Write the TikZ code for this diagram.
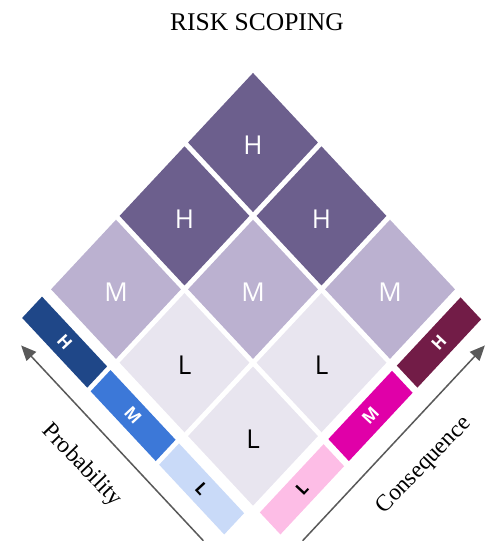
\documentclass[tikz,border=0pt]{standalone}
\usepackage{fontspec}
\setmainfont{Liberation Serif}
\newfontfamily\cellfont{Open Sans}
\usetikzlibrary{arrows.meta}
\definecolor{hcell}{HTML}{6C5F8D}
\definecolor{mcell}{HTML}{BBB1D0}
\definecolor{lcell}{HTML}{E8E5EF}
\definecolor{pH}{HTML}{1F4788}
\definecolor{pM}{HTML}{3C78D8}
\definecolor{pL}{HTML}{C9DAF8}
\definecolor{cH}{HTML}{721C47}
\definecolor{cM}{HTML}{E000A8}
\definecolor{cL}{HTML}{FDBDE6}
\definecolor{arrowgray}{HTML}{595959}
\tikzset{
  celltext/.style={font=\cellfont\fontsize{26}{30}\selectfont, inner sep=0pt, yshift=-3pt},
  bartext/.style={font=\cellfont\bfseries\fontsize{17}{20}\selectfont, inner sep=0pt},
  axislabel/.style={font=\fontsize{23.5}{28}\selectfont, inner sep=0pt},
  axisarrow/.style={draw=arrowgray, line width=1.5pt, -{Triangle[length=15pt,width=13pt]}},
}
\begin{document}
\begin{tikzpicture}[x=1pt,y=-1pt]
\useasboundingbox (0,0) rectangle (488,541);
\node[font=\fontsize{25.5}{30}\selectfont, inner sep=0pt] (title) at (257,21.7) {RISK SCOPING};
\begin{scope}[shift={(253,142.5)}, x={(68.5pt,-73.4pt)}, y={(-68.5pt,-73.4pt)}]
  % cells: j (down-right), i (down-left)
  \foreach \j/\i/\c/\t/\tc/\n in {0/0/hcell/H/white/c00, 1/0/hcell/H/white/c10, 0/1/hcell/H/white/c01,
      2/0/mcell/M/white/c20, 1/1/mcell/M/white/c11, 0/2/mcell/M/white/c02,
      2/1/lcell/L/black/c21, 1/2/lcell/L/black/c12, 2/2/lcell/L/black/c22}{
    \fill[\c] (\j-.474,\i-.474) -- (\j+.474,\i-.474) -- (\j+.474,\i+.474) -- (\j-.474,\i+.474) -- cycle;
    \node[celltext, text=\tc] (\n) at (\j,\i) {\t};
  }
  % probability bars (left)
  \foreach \j/\c/\t/\tc/\n in {0/pH/H/white/pbH, 1/pM/M/white/pbM, 2/pL/L/black/pbL}{
    \fill[\c] (\j-.49,2.59) -- (\j+.46,2.59) -- (\j+.46,2.88) -- (\j-.49,2.88) -- cycle;
    \node[bartext, text=\tc, rotate=-47] (\n) at (\j-.015,2.735) {\t};
  }
  % consequence bars (right)
  \foreach \i/\c/\t/\tc/\n in {0/cH/H/white/cbH, 1/cM/M/white/cbM, 2/cL/L/black/cbL}{
    \fill[\c] (2.57,\i-.46) -- (2.87,\i-.46) -- (2.87,\i+.47) -- (2.57,\i+.47) -- cycle;
    \node[bartext, text=\tc, rotate=47] (\n) at (2.72,\i+.005) {\t};
  }
  % axes
  \coordinate (pstart) at (2.35,3.075);
  \coordinate (pend) at (-0.31,3.075);
  \coordinate (cstart) at (3.075,2.35);
  \coordinate (cend) at (3.075,-0.31);
  \draw[axisarrow] (pstart) -- (pend);
  \draw[axisarrow] (cstart) -- (cend);
  \node[axislabel, rotate=-46] (prob) at (0.95,3.45) {Probability};
  \node[axislabel, rotate=46] (cons) at (3.45,0.95) {Consequence};
\end{scope}
\end{tikzpicture}
\end{document}
